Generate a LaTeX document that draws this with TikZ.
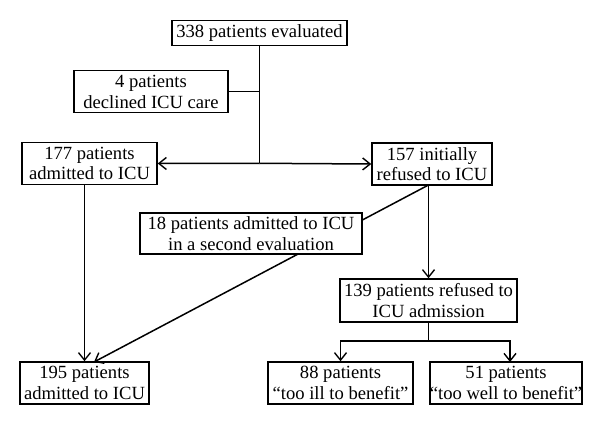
\documentclass[tikz,border=0pt]{standalone}
\usepackage{fontspec}
\setmainfont{Liberation Serif}
\usetikzlibrary{arrows.meta}
\begin{document}
\begin{tikzpicture}[x=1pt,y=-1pt,
  box/.style={draw,line width=1.5pt,fill=white,inner sep=0pt,align=center,
    font=\fontsize{18.6}{20.5}\selectfont},
  conn/.style={line width=1.5pt},
  arr/.style={conn,-{Straight Barb[length=7.5pt,width=12pt,line width=1.4pt]}}]
\useasboundingbox (0,0) rectangle (600,427);
\node[box,minimum width=175pt,minimum height=25pt] (n338) at (259.5,33.2) {338 patients evaluated};
\node[box,minimum width=154pt,minimum height=42pt] (n4) at (151,91.7) {4 patients\\declined ICU care};
\node[box,minimum width=135pt,minimum height=42pt] (n177) at (89.5,163.5) {177 patients\\admitted to ICU};
\node[box,minimum width=120pt,minimum height=42pt] (n157) at (432,164) {157 initially\\refused to ICU};
\node[box,minimum width=129pt,minimum height=42pt] (n195) at (84.5,383) {195 patients\\admitted to ICU};
\node[box,minimum width=177pt,minimum height=43pt] (n139) at (428.5,300.5) {139 patients refused to\\ICU admission};
\node[box,minimum width=145pt,minimum height=42pt] (n88) at (340.5,383) {88 patients\\``too ill to benefit''};
\node[box,minimum width=152pt,minimum height=42pt] (n51) at (506,383) {51 patients\\``too well to benefit''};
\coordinate (split) at (259.5,163.3);
\coordinate (branch4) at (259.5,91.7);
\coordinate (s157) at (428.5,185);
\coordinate (d195) at (94,362);
\coordinate (s139) at (428.5,341);
\coordinate (l139) at (340.5,341);
\coordinate (r139) at (510,341);
\coordinate (t51) at (510,362);
% connectors
\draw[conn] (n338.south) -- (split);
\draw[conn] (branch4) -- (n4.east);
\draw[arr] (split) -- (n177.east);
\draw[arr] (split) -- (n157.west);
\draw[arr] (n195.north |- n177.south) -- (n195.north);
\draw[arr] (s157) -- (d195);
\draw[arr] (s157) -- (n139.north);
\draw[conn] (n139.south) -- (s139);
\draw[arr] (s139) -- (l139) -- (n88.north);
\draw[arr] (s139) -- (r139) -- (t51);
\node[box,minimum width=222pt,minimum height=41pt] (n18) at (251,233.5) {18 patients admitted to ICU\\in a second evaluation};
\end{tikzpicture}
\end{document}
